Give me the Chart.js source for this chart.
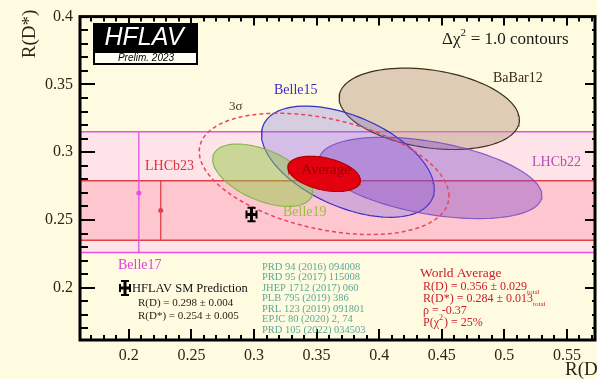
<!DOCTYPE html>
<html>
<head>
<meta charset="utf-8">
<script src="https://cdn.jsdelivr.net/npm/chart.js@4"></script>
<style>
    html, body { margin: 0; padding: 0; overflow: hidden; background: #fffbe0; }
    canvas { display: block; }
</style>
</head>
<body>
<canvas id="rdChart" width="615" height="379"></canvas>
<script>
// 2D measurements of R(D) and R(D*)
const experiments = ['BaBar12', 'Belle15', 'LHCb22', 'Belle19'];
const rdValues = [0.440, 0.375, 0.441, 0.307];
const rdErrors = [0.072, 0.069, 0.089, 0.040];
const rdsValues = [0.332, 0.293, 0.281, 0.283];
const rdsErrors = [0.030, 0.041, 0.030, 0.023];
const correlations = [-0.27, -0.49, -0.43, -0.51];

// R(D*)-only measurements, drawn as bands
const oneDNames = ['Belle17', 'LHCb23'];
const oneDValues = [0.270, 0.257];
const oneDErrUp = [0.045, 0.022];
const oneDErrDown = [0.044, 0.022];
const oneDPlotX = [0.208, 0.2255];

// world average and SM prediction
const avgRD = 0.356, avgRDErr = 0.029;
const avgRDs = 0.284, avgRDsErr = 0.013;
const avgRho = -0.37;
const smRD = 0.298, smRDErr = 0.004;
const smRDs = 0.254, smRDsErr = 0.005;

const xTickValues = [0.2, 0.25, 0.3, 0.35, 0.4, 0.45, 0.5, 0.55];
const xTickLabels = ['0.2', '0.25', '0.3', '0.35', '0.4', '0.45', '0.5', '0.55'];
const yTickValues = [0.2, 0.25, 0.3, 0.35, 0.4];
const yTickLabels = ['0.2', '0.25', '0.3', '0.35', '0.4'];

const references = [
    'PRD 94 (2016) 094008',
    'PRD 95 (2017) 115008',
    'JHEP 1712 (2017) 060',
    'PLB 795 (2019) 386',
    'PRL 123 (2019) 091801',
    'EPJC 80 (2020) 2, 74',
    'PRD 105 (2022) 034503'
];

const xMin = 0.161, xMax = 0.5724;
const yMin = 0.1615, yMax = 0.4;

const SERIF = "'Liberation Serif', 'DejaVu Serif', serif";
const SANS = "'Liberation Sans', Arial, sans-serif";

// contour of a 2D gaussian: dchi2 = 1 scaled by k
function ellipsePoints(cx, sx, cy, sy, rho, k) {
    const pts = [];
    const n = 120;
    const s = Math.sqrt(1 - rho * rho);
    for (let i = 0; i <= n; i++) {
        const t = 2 * Math.PI * i / n;
        pts.push({
            x: cx + k * sx * Math.cos(t),
            y: cy + k * sy * (rho * Math.cos(t) + s * Math.sin(t))
        });
    }
    return pts;
}

const ellipseStyles = {
    BaBar12: { fill: 'rgba(190,160,135,0.5)', edge: '#3a3020' },
    Belle15: { fill: 'rgba(120,100,230,0.3)', edge: '#3030c8' },
    LHCb22: { fill: 'rgba(130,70,200,0.4)', edge: 'rgba(110,70,190,0.8)' },
    Belle19: { fill: 'rgba(150,200,70,0.5)', edge: 'rgba(130,180,70,0.9)' }
};

const bandStyles = {
    Belle17: { fill: 'rgba(250,170,255,0.28)', edge: '#e650e6' },
    LHCb23: { fill: 'rgba(255,110,130,0.24)', edge: '#e0404a' }
};

function segment(x0, y0, x1, y1, color, width) {
    return {
        data: [{ x: x0, y: y0 }, { x: x1, y: y1 }],
        showLine: true,
        borderColor: color,
        borderWidth: width,
        pointRadius: 0,
        fill: false
    };
}

const datasets = [];

// bands first
oneDNames.forEach(function (name, i) {
    const st = bandStyles[name];
    const hi = oneDValues[i] + oneDErrUp[i];
    const lo = oneDValues[i] - oneDErrDown[i];
    const band = segment(xMin, hi, xMax, hi, st.edge, 1.5);
    band.fill = { value: lo };
    band.backgroundColor = st.fill;
    datasets.push(band);
    datasets.push(segment(xMin, lo, xMax, lo, st.edge, 1.5));
});

experiments.forEach(function (name, i) {
    const st = ellipseStyles[name];
    datasets.push({
        data: ellipsePoints(rdValues[i], rdErrors[i], rdsValues[i], rdsErrors[i], correlations[i], 1),
        showLine: true,
        borderColor: st.edge,
        borderWidth: 1.2,
        backgroundColor: st.fill,
        pointRadius: 0,
        fill: 'shape'
    });
});

datasets.push({
    data: ellipsePoints(avgRD, avgRDErr, avgRDs, avgRDsErr, avgRho, 1),
    showLine: true,
    borderColor: '#b00000',
    borderWidth: 1.2,
    backgroundColor: '#e3000f',
    pointRadius: 0,
    fill: 'shape'
});

// 3 sigma contour for two degrees of freedom
datasets.push({
    data: ellipsePoints(avgRD, avgRDErr, avgRDs, avgRDsErr, avgRho, Math.sqrt(11.83)),
    showLine: true,
    borderColor: '#e8455a',
    borderWidth: 1.5,
    borderDash: [4, 3],
    pointRadius: 0,
    fill: false
});

oneDNames.forEach(function (name, i) {
    const st = bandStyles[name];
    datasets.push(segment(oneDPlotX[i], oneDValues[i] - oneDErrDown[i], oneDPlotX[i], oneDValues[i] + oneDErrUp[i], st.edge, 1.3));
    datasets.push({
        data: [{ x: oneDPlotX[i], y: oneDValues[i] }],
        pointRadius: 2.5,
        pointBackgroundColor: st.edge,
        pointBorderWidth: 0
    });
});

// SM prediction error bars
const smH = segment(smRD - smRDErr, smRDs, smRD + smRDErr, smRDs, '#000', 3);
smH.pointStyle = 'line';
smH.pointRotation = 90;
smH.pointRadius = 4;
smH.pointBorderWidth = 2;
smH.pointBorderColor = '#000';
datasets.push(smH);
const smV = segment(smRD, smRDs - smRDsErr, smRD, smRDs + smRDsErr, '#000', 3);
smV.pointStyle = 'line';
smV.pointRadius = 4;
smV.pointBorderWidth = 2;
smV.pointBorderColor = '#000';
datasets.push(smV);

// first entry at the bottom
datasets.forEach(function (ds, i) { ds.order = datasets.length - i; });

function text(ctx, str, x, y, size, color, align, family, style) {
    ctx.font = (style ? style + ' ' : '') + size + 'px ' + (family || SERIF);
    ctx.fillStyle = color;
    ctx.textAlign = align || 'left';
    ctx.textBaseline = 'middle';
    ctx.fillText(str, x, y);
    return ctx.measureText(str).width;
}

function smCross(ctx, x, y) {
    ctx.strokeStyle = '#000';
    ctx.lineWidth = 3;
    ctx.beginPath();
    ctx.moveTo(x - 5, y); ctx.lineTo(x + 5, y);
    ctx.moveTo(x, y - 7); ctx.lineTo(x, y + 7);
    ctx.stroke();
    ctx.lineWidth = 2;
    ctx.beginPath();
    ctx.moveTo(x - 5, y - 4); ctx.lineTo(x - 5, y + 4);
    ctx.moveTo(x + 5, y - 4); ctx.lineTo(x + 5, y + 4);
    ctx.moveTo(x - 4, y - 7); ctx.lineTo(x + 4, y - 7);
    ctx.moveTo(x - 4, y + 7); ctx.lineTo(x + 4, y + 7);
    ctx.stroke();
}

const decorations = {
    id: 'decorations',
    beforeDraw(chart) {
        const ctx = chart.ctx;
        ctx.save();
        ctx.fillStyle = '#fffbe0';
        ctx.fillRect(0, 0, chart.width, chart.height);
        ctx.restore();
    },
    afterDatasetsDraw(chart) {
        const ctx = chart.ctx;
        const a = chart.chartArea;
        const xs = chart.scales.x, ys = chart.scales.y;
        ctx.save();

        // frame
        ctx.strokeStyle = '#000';
        ctx.lineWidth = 3;
        ctx.strokeRect(a.left, a.top, a.right - a.left, a.bottom - a.top);

        // inward ticks
        ctx.lineWidth = 2;
        ctx.beginPath();
        for (let k = 17; k <= 57; k++) {
            const v = k / 100;
            const px = Math.round(xs.getPixelForValue(v));
            const major = k % 5 === 0;
            ctx.moveTo(px, a.bottom); ctx.lineTo(px, a.bottom - (major ? 11 : 5));
            ctx.moveTo(px, a.top); ctx.lineTo(px, a.top + (major ? 9 : 5));
        }
        for (let k = 17; k <= 39; k++) {
            const v = k / 100;
            const py = Math.round(ys.getPixelForValue(v));
            const major = k % 5 === 0;
            ctx.moveTo(a.left, py); ctx.lineTo(a.left + (major ? 15 : 8), py);
            ctx.moveTo(a.right, py); ctx.lineTo(a.right - (major ? 10 : 3), py);
        }
        ctx.stroke();

        // HFLAV logo
        ctx.fillStyle = '#000';
        ctx.fillRect(93, 23, 105, 42);
        ctx.fillStyle = '#fffff4';
        ctx.fillRect(95, 53, 101, 10);
        text(ctx, 'HFLAV', 144, 38, 25, '#fff', 'center', SANS, 'italic');
        text(ctx, 'Prelim. 2023', 146, 58.5, 10, '#000', 'center', SANS, 'italic');

        // contour note
        let w = text(ctx, '\u0394\u03c7', 442, 40, 17, '#1a1a1a');
        text(ctx, '2', 442 + w, 33, 11, '#1a1a1a');
        text(ctx, ' = 1.0 contours', 448 + w, 40, 17, '#1a1a1a');

        // labels next to measurements
        text(ctx, 'BaBar12', 493, 78, 14, '#3c2a14');
        text(ctx, 'Belle15', 274, 90, 14, '#3c2dbe');
        text(ctx, '3\u03c3', 229, 107, 13, '#4a3520');
        text(ctx, 'LHCb23', 145, 166, 14, '#e0303c');
        text(ctx, 'Average', 326, 170, 15, 'rgba(130,0,0,0.8)', 'center');
        text(ctx, 'LHCb22', 532, 162, 14, '#b050b0');
        text(ctx, 'Belle19', 283, 212, 14, '#9abf3c');
        text(ctx, 'Belle17', 118, 265, 14, '#e040e0');

        // SM legend
        smCross(ctx, 125, 288);
        text(ctx, 'HFLAV SM Prediction', 132, 289, 12.5, '#111');
        text(ctx, 'R(D) = ' + smRD.toFixed(3) + ' \u00b1 ' + smRDErr.toFixed(3), 138, 303, 11, '#2d2010');
        text(ctx, 'R(D*) = ' + smRDs.toFixed(3) + ' \u00b1 ' + smRDsErr.toFixed(3), 138, 316, 11, '#2d2010');

        // references
        references.forEach(function (r, i) {
            text(ctx, r, 262, 267 + i * 10.5, 10.5, '#5aa89a');
        });

        // world average box
        const red = '#c8202a';
        text(ctx, 'World Average', 420, 273, 13.5, red);
        w = text(ctx, 'R(D) = ' + avgRD.toFixed(3) + ' \u00b1 ' + avgRDErr.toFixed(3), 423, 287, 12, red);
        text(ctx, 'total', 423 + w, 292, 7, red);
        w = text(ctx, 'R(D*) = ' + avgRDs.toFixed(3) + ' \u00b1 ' + avgRDsErr.toFixed(3), 423, 299, 12, red);
        text(ctx, 'total', 423 + w, 304, 7, red);
        text(ctx, '\u03c1 = ' + avgRho.toFixed(2), 423, 311, 12, red);
        w = text(ctx, 'P(\u03c7', 423, 323, 12, red);
        text(ctx, '2', 423 + w, 318, 8, red);
        text(ctx, ') = 25%', 428 + w, 323, 12, red);

        // axis titles
        text(ctx, 'R(D)', 565, 370, 19, '#2d2418');
        ctx.translate(30, 34);
        ctx.rotate(-Math.PI / 2);
        text(ctx, 'R(D*)', 0, 0, 19, '#2d2418', 'center');

        ctx.restore();
    }
};

new Chart(document.getElementById('rdChart').getContext('2d'), {
    type: 'scatter',
    data: { datasets: datasets },
    options: {
        responsive: false,
        devicePixelRatio: 1,
        animation: false,
        layout: { padding: { top: 12, right: 20, left: 0, bottom: 0 } },
        plugins: {
            legend: { display: false },
            tooltip: { enabled: false }
        },
        scales: {
            x: {
                type: 'linear',
                min: xMin,
                max: xMax,
                grid: { display: false, drawTicks: false },
                border: { display: false },
                afterBuildTicks: function (scale) {
                    scale.ticks = xTickValues.map(v => ({ value: v }));
                },
                afterFit: function (scale) { scale.height = 39; },
                ticks: {
                    autoSkip: false,
                    maxRotation: 0,
                    padding: 6,
                    color: '#2d2418',
                    font: { family: SERIF, size: 16 },
                    callback: (v, i) => xTickLabels[i]
                }
            },
            y: {
                type: 'linear',
                min: yMin,
                max: yMax,
                grid: { display: false, drawTicks: false },
                border: { display: false },
                afterBuildTicks: function (scale) {
                    scale.ticks = yTickValues.map(v => ({ value: v }));
                },
                afterFit: function (scale) { scale.width = 80; },
                ticks: {
                    autoSkip: false,
                    padding: 7,
                    color: '#2d2418',
                    font: { family: SERIF, size: 16 },
                    callback: (v, i) => yTickLabels[i]
                }
            }
        }
    },
    plugins: [decorations]
});
</script>
</body>
</html>
